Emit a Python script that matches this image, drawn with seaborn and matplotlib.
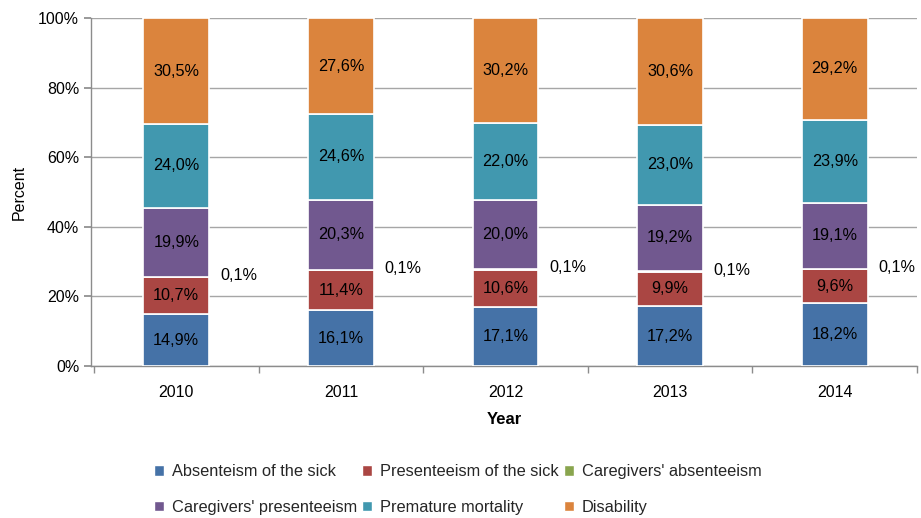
import numpy as np
import pandas as pd
import matplotlib
matplotlib.use("Agg")
import matplotlib.pyplot as plt
import seaborn as sns
from matplotlib.patches import Patch
from matplotlib.ticker import FuncFormatter, MultipleLocator

years = ["2010", "2011", "2012", "2013", "2014"]
categories = ["Absenteism of the sick", "Presenteeism of the sick", "Caregivers' absenteeism",
              "Caregivers' presenteeism", "Premature mortality", "Disability"]
absent_sick = [14.9, 16.1, 17.1, 17.2, 18.2]
present_sick = [10.7, 11.4, 10.6, 9.9, 9.6]
care_absent = [0.1, 0.1, 0.1, 0.1, 0.1]
care_present = [19.9, 20.3, 20.0, 19.2, 19.1]
premature = [24.0, 24.6, 22.0, 23.0, 23.9]
disability = [30.5, 27.6, 30.2, 30.6, 29.2]
colors = ["#4572A7", "#AA4643", "#89A54E", "#71588F", "#4198AF", "#DB843D"]

series = [absent_sick, present_sick, care_absent, care_present, premature, disability]
raw = np.array(series)
share = raw / raw.sum(axis=0) * 100  # 100% stacked

sns.set_theme(style="white")
plt.rcParams['font.family'] = ['Liberation Sans', 'DejaVu Sans']

fig, ax = plt.subplots(figsize=(9.21, 5.18), dpi=100)
fig.subplots_adjust(left=0.0988, right=0.9957, top=0.965, bottom=0.2934)

bottom = np.zeros(len(years))
for i, name in enumerate(categories):
    df = pd.DataFrame({"Year": years, "val": share[i]})
    sns.barplot(data=df, x="Year", y="val", bottom=bottom, color=colors[i], width=0.4,
                edgecolor="white", linewidth=1.2, saturation=1, ax=ax, zorder=3)
    for j in range(len(years)):
        label = f"{raw[i, j]:.1f}".replace(".", ",") + "%"
        if name == "Caregivers' absenteeism":
            ax.text(j + 0.265, bottom[j] + 0.5, label, ha="left", va="center",
                    fontsize=11.7, color="black", zorder=5)
        else:
            ax.text(j, bottom[j] + share[i, j] / 2, label, ha="center", va="center",
                    fontsize=11.7, color="black", zorder=5)
    bottom = bottom + share[i]

ax.set_xlim(-0.518, 4.5)
ax.set_ylim(0, 100)
ax.yaxis.set_major_locator(MultipleLocator(20))
ax.yaxis.set_major_formatter(FuncFormatter(lambda v, p: f"{v:.0f}%"))
ax.grid(axis="y", color="#A6A6A6", linewidth=1, zorder=0)
ax.set_axisbelow(True)

for s in ["top", "right"]:
    ax.spines[s].set_visible(False)
for s in ["left", "bottom"]:
    ax.spines[s].set_color("#8C8C8C")
    ax.spines[s].set_linewidth(1)

ax.set_xticks(np.arange(-0.5, 5, 1), minor=True)
ax.tick_params(axis="x", which="major", length=0, labelsize=11.5, labelcolor="black", pad=14)
ax.tick_params(axis="x", which="minor", length=5, direction="out", color="#8C8C8C", bottom=True)
ax.tick_params(axis="y", length=5, direction="out", color="#8C8C8C", left=True,
               labelsize=11.5, labelcolor="black")

ax.set_xlabel("Year", fontsize=12, fontweight="bold", color="black", labelpad=8)
ax.set_ylabel("Percent", fontsize=11.5, color="black", labelpad=8)

handles = [Patch(facecolor=c, edgecolor="white") for c in colors]
order = [0, 3, 1, 4, 2, 5]
fig.legend([handles[k] for k in order], [categories[k] for k in order],
           loc="center", bbox_to_anchor=(0.497, 0.055), ncol=3, frameon=False,
           fontsize=11.8, handlelength=0.6, handleheight=0.6, handletextpad=0.5,
           columnspacing=0.3, labelspacing=1.25)

fig.savefig("out.png", dpi=100)
